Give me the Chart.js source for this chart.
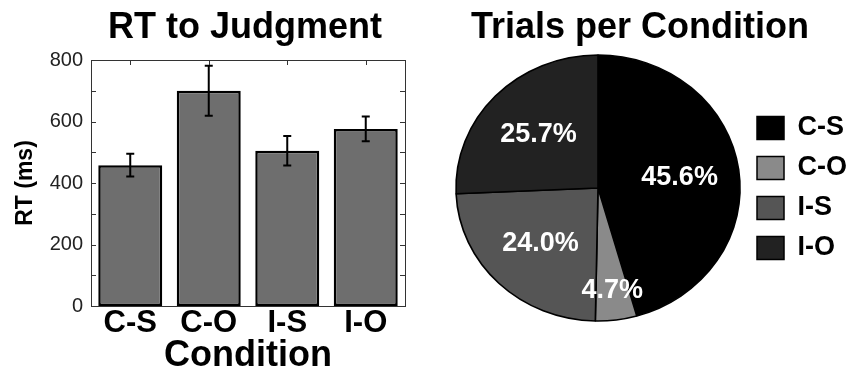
<!DOCTYPE html>
<html>
<head>
<meta charset="utf-8">
<script src="https://cdn.jsdelivr.net/npm/chart.js@4"></script>
<style>
  html, body { margin: 0; padding: 0; background: #fff; overflow: hidden; }
  #wrap { position: relative; width: 848px; height: 372px; overflow: hidden; }
  #barChart { position: absolute; left: 0; top: 0; }
  #pieChart { position: absolute; left: 424px; top: 0; }
</style>
</head>
<body>
<div id="wrap">
  <canvas id="barChart" width="424" height="372"></canvas>
  <canvas id="pieChart" width="433" height="372"></canvas>
</div>
<script>
const conditions = ["C-S", "C-O", "I-S", "I-O"];
const rtMean = [458, 700, 505, 576];
const rtErr = [37, 81, 48, 40];
const yLabelTicks = [0, 200, 400, 600, 800];
const trialPct = [45.6, 4.7, 24.0, 25.7];
const barTitle = "RT to Judgment";
const pieTitle = "Trials per Condition";

const FONT = '"Liberation Sans", Arial, Helvetica, sans-serif';
Chart.defaults.font.family = FONT;

// error bars, box frame with inward ticks, title
const barDecor = {
  id: "barDecor",
  afterDatasetsDraw(chart) {
    const { ctx, chartArea: a, scales: { x, y } } = chart;
    const meta = chart.getDatasetMeta(0);
    ctx.save();
    ctx.strokeStyle = "#000";
    ctx.lineWidth = 2;
    meta.data.forEach((bar, i) => {
      const top = y.getPixelForValue(rtMean[i] + rtErr[i]);
      const bot = y.getPixelForValue(rtMean[i] - rtErr[i]);
      ctx.beginPath();
      ctx.moveTo(bar.x, top);
      ctx.lineTo(bar.x, bot);
      ctx.moveTo(bar.x - 4, top);
      ctx.lineTo(bar.x + 4, top);
      ctx.moveTo(bar.x - 4, bot);
      ctx.lineTo(bar.x + 4, bot);
      ctx.stroke();
    });

    ctx.lineWidth = 1;
    ctx.strokeStyle = "#333";
    ctx.strokeRect(a.left + 0.5, a.top + 0.5, a.width, a.height);
    ctx.beginPath();
    y.ticks.forEach((t) => {
      const py = Math.round(y.getPixelForValue(t.value)) + 0.5;
      ctx.moveTo(a.left, py);
      ctx.lineTo(a.left + 5, py);
      ctx.moveTo(a.right, py);
      ctx.lineTo(a.right - 5, py);
    });
    x.ticks.forEach((t, i) => {
      const px = Math.round(x.getPixelForValue(i)) + 0.5;
      ctx.moveTo(px, a.top);
      ctx.lineTo(px, a.top + 5);
    });
    ctx.stroke();

    ctx.fillStyle = "#000";
    ctx.font = "bold 36px " + FONT;
    ctx.textAlign = "center";
    ctx.textBaseline = "alphabetic";
    ctx.fillText(barTitle, (a.left + a.right) / 2 - 3, 38);
    ctx.restore();
  },
};

new Chart(document.getElementById("barChart"), {
  type: "bar",
  data: {
    labels: conditions,
    datasets: [
      {
        data: rtMean,
        backgroundColor: "#6e6e6e",
        borderColor: "#000",
        borderWidth: 2.5,
        borderSkipped: false,
        barPercentage: 0.815,
        categoryPercentage: 1,
      },
    ],
  },
  options: {
    responsive: false,
    animation: false,
    layout: { padding: { top: 60, right: 19, left: 0, bottom: 0 } },
    plugins: { legend: { display: false }, tooltip: { enabled: false } },
    scales: {
      x: {
        grid: { display: false, drawTicks: false },
        border: { display: false },
        ticks: {
          color: "#000",
          autoSkip: false,
          maxRotation: 0,
          font: { size: 31, weight: "bold" },
          padding: -1,
        },
        title: {
          display: true,
          text: "Condition",
          color: "#000",
          font: { size: 36, weight: "bold", lineHeight: 0.78 },
          padding: { top: 0, bottom: 2 },
        },
        afterFit: (s) => {
          s.height = 66;
        },
      },
      y: {
        min: 0,
        max: 800,
        grid: { display: false, drawTicks: false },
        border: { display: false },
        ticks: {
          stepSize: 100,
          autoSkip: false,
          color: "#222",
          font: { size: 20 },
          padding: 8,
          callback: (v) => (yLabelTicks.includes(v) ? v : ""),
        },
        title: {
          display: true,
          text: "RT (ms)",
          color: "#000",
          font: { size: 23, weight: "bold", lineHeight: 1.2 },
          padding: { top: 12, bottom: 0 },
        },
        afterFit: (s) => {
          s.width = 91;
        },
      },
    },
  },
  plugins: [barDecor],
});

// slightly oval pie, percent labels, title
const stretchX = 1.068;
const pieDecor = {
  id: "pieDecor",
  beforeDatasetsDraw(chart) {
    const arc = chart.getDatasetMeta(0).data[0];
    const ctx = chart.ctx;
    ctx.save();
    ctx.translate(arc.x, arc.y);
    ctx.scale(stretchX, 1);
    ctx.translate(-arc.x, -arc.y);
  },
  afterDatasetsDraw(chart) {
    const ctx = chart.ctx;
    ctx.restore();
    ctx.save();
    ctx.fillStyle = "#fff";
    ctx.font = "bold 27px " + FONT;
    ctx.textAlign = "center";
    ctx.textBaseline = "middle";
    chart.getDatasetMeta(0).data.forEach((arc, i) => {
      const mid = (arc.startAngle + arc.endAngle) / 2;
      const f = trialPct[i] < 10 ? 0.78 : 0.58;
      const px = arc.x + Math.cos(mid) * arc.outerRadius * f * stretchX;
      const py = arc.y + Math.sin(mid) * arc.outerRadius * f;
      ctx.fillText(trialPct[i].toFixed(1) + "%", px, py);
    });
    ctx.fillStyle = "#000";
    ctx.font = "bold 36px " + FONT;
    ctx.textBaseline = "alphabetic";
    ctx.fillText(pieTitle, 216, 38);
    ctx.restore();
  },
};

new Chart(document.getElementById("pieChart"), {
  type: "pie",
  data: {
    labels: conditions,
    datasets: [
      {
        data: trialPct,
        backgroundColor: ["#000000", "#8a8a8a", "#555555", "#222222"],
        borderColor: "#000",
        borderWidth: 1.5,
        radius: 133,
      },
    ],
  },
  options: {
    responsive: false,
    animation: false,
    layout: { padding: { top: 55, bottom: 51, left: 28, right: 0 } },
    plugins: {
      legend: {
        position: "right",
        labels: {
          boxWidth: 27,
          boxHeight: 23,
          padding: 13,
          color: "#000",
          font: { size: 27, weight: "bold" },
        },
      },
      tooltip: { enabled: false },
    },
  },
  plugins: [pieDecor],
});
</script>
</body>
</html>
